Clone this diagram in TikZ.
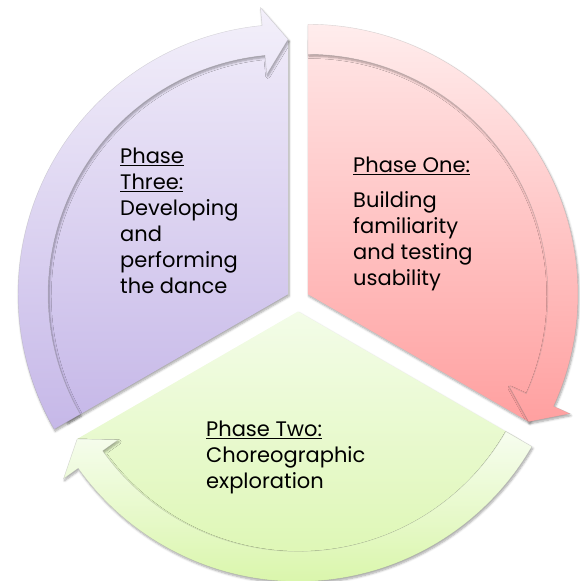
\documentclass[tikz,border=0pt]{standalone}
\usepackage{fontspec}
\setmainfont{Poppins}
\usepackage{xcolor}
\usetikzlibrary{shadows.blur}
\definecolor{pinkA}{RGB}{255,229,229}
\definecolor{pinkB}{RGB}{255,160,160}
\definecolor{greenA}{RGB}{243,252,232}
\definecolor{greenB}{RGB}{218,246,172}
\definecolor{purpA}{RGB}{238,233,248}
\definecolor{purpB}{RGB}{198,184,232}

\begin{document}
\begin{tikzpicture}[
  x=1pt, y=1pt,
  wedge/.style={blur shadow={shadow xshift=1pt, shadow yshift=-2pt,
    shadow blur steps=6, shadow opacity=35}},
  band/.style={wedge, draw=black!40, draw opacity=0.35, line width=0.4pt},
  phasetext/.style={anchor=north west, inner sep=0pt, align=left,
    font=\fontsize{21}{26}\selectfont}
]
\useasboundingbox (-298,-281) rectangle (281,300);

% --- phase one: pink, 90 -> -30 ---
\begin{scope}[shift={(30:11.5)}]
  \path[wedge, top color=pinkA, bottom color=pinkB]
    (0,0) -- (90:255) arc[start angle=90, end angle=-30, radius=255] -- cycle;
  \path[band, top color=pinkA!70!white, bottom color=pinkB]
    (90:270) arc[start angle=90, end angle=-24.5, radius=270]
    -- (-24.5:288) -- (-30:255) -- (-24.5:221) -- (-24.5:240)
    arc[start angle=-24.5, end angle=90, radius=240] -- cycle;
\end{scope}

% --- phase two: green, -30 -> -150 ---
\begin{scope}[shift={(270:11.5)}]
  \path[wedge, top color=greenA, bottom color=greenB]
    (0,0) -- (-30:255) arc[start angle=-30, end angle=-150, radius=255] -- cycle;
  \path[band, top color=greenA!70!white, bottom color=greenB]
    (-30:270) arc[start angle=-30, end angle=-144.5, radius=270]
    -- (-144.5:288) -- (-150:255) -- (-144.5:221) -- (-144.5:240)
    arc[start angle=-144.5, end angle=-30, radius=240] -- cycle;
\end{scope}

% --- phase three: purple, 210 -> 90 ---
\begin{scope}[shift={(150:11.5)}]
  \path[wedge, top color=purpA, bottom color=purpB]
    (0,0) -- (210:255) arc[start angle=210, end angle=90, radius=255] -- cycle;
  \path[band, top color=purpA!70!white, bottom color=purpB]
    (210:270) arc[start angle=210, end angle=95.5, radius=270]
    -- (95.5:288) -- (90:255) -- (95.5:221) -- (95.5:240)
    arc[start angle=95.5, end angle=210, radius=240] -- cycle;
\end{scope}

% --- texts ---
\node[phasetext] (one) at (55,143)
  {\underline{Phase One:}\\[9pt]Building\\familiarity\\and testing\\usability};
\node[phasetext] (two) at (-92,-121)
  {\underline{Phase Two:}\\Choreographic\\exploration};
\node[phasetext] (three) at (-178,152)
  {\underline{Phase}\\\underline{Three:}\\Developing\\and\\performing\\the dance};
\end{tikzpicture}
\end{document}
